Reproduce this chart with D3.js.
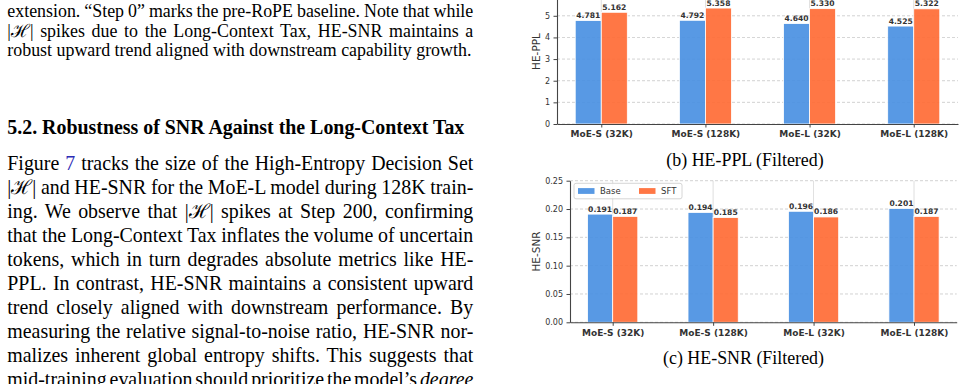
<!DOCTYPE html>
<html>
<head>
<meta charset="utf-8">
<script src="https://cdn.jsdelivr.net/npm/d3@7"></script>
<style>
  body { margin: 0; background: #fff; }
  svg { display: block; }
</style>
</head>
<body>
<script>
// chart data
const models = ["MoE-S (32K)", "MoE-S (128K)", "MoE-L (32K)", "MoE-L (128K)"];
const seriesNames = ["Base", "SFT"];
const pplBase = [4.781, 4.792, 4.640, 4.525];
const pplSft = [5.162, 5.358, 5.330, 5.322];
const snrBase = [0.191, 0.194, 0.196, 0.201];
const snrSft = [0.187, 0.185, 0.186, 0.187];
const pplTicks = [0, 1, 2, 3, 4, 5];
const snrTicks = [0, 0.05, 0.10, 0.15, 0.20, 0.25];

const colors = ["#4a90e2", "#ff6b35"];
const H = "|\u210B|";

const svg = d3.select("body").append("svg")
    .attr("width", 965)
    .attr("height", 384);

// ---------- left column text ----------
const serif = "'Liberation Serif', 'Times New Roman', serif";
const colLeft = 7.3, colWidth = 466;

function textLine(segs, y, size, justify, bold) {
  const t = svg.append("text")
      .attr("x", colLeft)
      .attr("y", y)
      .attr("font-family", serif)
      .attr("font-size", size)
      .attr("font-weight", bold ? "bold" : "normal")
      .attr("fill", "#000");
  segs.forEach(s => {
    const sp = t.append("tspan").text(s.t);
    if (s.c) sp.attr("fill", s.c);
    if (s.i) sp.attr("font-style", "italic");
  });
  if (justify) {
    const w = t.node().getComputedTextLength();
    const n = segs.map(s => s.t).join("").split(" ").length - 1;
    if (n > 0) t.style("word-spacing", ((colWidth - w) / n) + "px");
  }
}

const capLines = [
  [{t: "extension. \u201CStep 0\u201D marks the pre-RoPE baseline. Note that while"}],
  [{t: H + " spikes due to the Long-Context Tax, HE-SNR maintains a"}],
  [{t: "robust upward trend aligned with downstream capability growth."}]
];
capLines.forEach((l, i) => textLine(l, 17.1 + i * 19.5, 17.9, i < 2, false));

textLine([{t: "5.2. Robustness of SNR Against the Long-Context Tax"}], 134, 19.9, false, true);

const bodyLines = [
  [{t: "Figure "}, {t: "7", c: "#2b2bb5"}, {t: " tracks the size of the High-Entropy Decision Set"}],
  [{t: H + " and HE-SNR for the MoE-L model during 128K train-"}],
  [{t: "ing. We observe that " + H + " spikes at Step 200, confirming"}],
  [{t: "that the Long-Context Tax inflates the volume of uncertain"}],
  [{t: "tokens, which in turn degrades absolute metrics like HE-"}],
  [{t: "PPL. In contrast, HE-SNR maintains a consistent upward"}],
  [{t: "trend closely aligned with downstream performance. By"}],
  [{t: "measuring the relative signal-to-noise ratio, HE-SNR nor-"}],
  [{t: "malizes inherent global entropy shifts. This suggests that"}],
  [{t: "mid-training evaluation should prioritize the model\u2019s "}, {t: "degree", i: true}]
];
bodyLines.forEach((l, i) => textLine(l, 170.3 + i * 23.95, 19.9, true, false));

// ---------- bar charts ----------
const sans = "'DejaVu Sans', sans-serif";

function barChart(cfg) {
  const g = svg.append("g");
  const x = d3.scaleLinear().domain([-0.425, 3.425]).range([cfg.left, cfg.right]);
  const y = d3.scaleLinear().domain(cfg.domain).range([cfg.bottom, cfg.top]);
  const bw = 0.25;

  // grid
  g.append("g").selectAll("line").data(cfg.ticks).join("line")
      .attr("x1", cfg.left).attr("x2", cfg.right)
      .attr("y1", d => y(d)).attr("y2", d => y(d))
      .attr("stroke", "#b0b0b0").attr("stroke-width", 0.8)
      .attr("stroke-dasharray", "3,2").attr("opacity", 0.7);
  g.append("g").selectAll("line").data(models).join("line")
      .attr("x1", (d, i) => x(i)).attr("x2", (d, i) => x(i))
      .attr("y1", y(cfg.domain[1])).attr("y2", y(0))
      .attr("stroke", "#b0b0b0").attr("stroke-width", 0.8).attr("opacity", 0.5);

  // bars + labels
  [cfg.base, cfg.sft].forEach((vals, s) => {
    const off = s === 0 ? -bw : 0;
    g.append("g").selectAll("rect").data(vals).join("rect")
        .attr("x", (d, i) => x(i + off))
        .attr("width", x(bw) - x(0))
        .attr("y", d => y(d))
        .attr("height", d => y(0) - y(d))
        .attr("fill", colors[s]).attr("fill-opacity", 0.92)
        .attr("stroke", "#fff").attr("stroke-width", 0.8);
    g.append("g").selectAll("text").data(vals).join("text")
        .attr("x", (d, i) => x(i + off + bw / 2))
        .attr("y", d => y(d) - 2.5)
        .attr("text-anchor", "middle")
        .attr("font-family", sans).attr("font-size", 7.6).attr("font-weight", "bold")
        .attr("fill", "#333")
        .text(d => d3.format(".3f")(d));
  });

  // axes
  const yAxis = g.append("g")
      .attr("transform", `translate(${cfg.left},0)`)
      .call(d3.axisLeft(y).tickValues(cfg.ticks).tickFormat(cfg.fmt)
        .tickSize(3.5).tickSizeOuter(0).tickPadding(3.5));
  const xAxis = g.append("g")
      .attr("transform", `translate(0,${cfg.bottom})`)
      .call(d3.axisBottom(x).tickValues(d3.range(models.length)).tickFormat(i => models[i])
        .tickSize(3.5).tickSizeOuter(0).tickPadding(3.5));
  [yAxis, xAxis].forEach(a => {
    a.select(".domain").attr("stroke", "#444").attr("stroke-width", 1.1);
    a.selectAll(".tick line").attr("stroke", "#444").attr("stroke-width", 1);
    a.selectAll(".tick text").attr("fill", "#333").attr("font-family", sans);
  });
  yAxis.selectAll(".tick text").attr("font-size", 8);
  xAxis.selectAll(".tick text").attr("font-size", 9).attr("font-weight", "bold");

  g.append("text")
      .attr("transform", `translate(${cfg.labelX},${(y.range()[0] + y.range()[1]) / 2}) rotate(-90)`)
      .attr("dy", "0.35em")
      .attr("text-anchor", "middle")
      .attr("font-family", sans).attr("font-size", 10.5).attr("fill", "#333")
      .text(cfg.ylabel);

  svg.append("text")
      .attr("x", cfg.capX).attr("y", cfg.capY)
      .attr("text-anchor", "middle")
      .attr("font-family", serif).attr("font-size", 17.9).attr("fill", "#000")
      .text(cfg.caption);
  return {g, x, y};
}

barChart({
  left: 557, right: 958, top: -21, bottom: 124,
  domain: [0, 6.7], ticks: pplTicks, fmt: d3.format("d"),
  base: pplBase, sft: pplSft,
  ylabel: "HE-PPL", labelX: 536,
  caption: "(b) HE-PPL (Filtered)", capX: 745, capY: 165.5
});

const c = barChart({
  left: 570, right: 956.7, top: 180.7, bottom: 322.3,
  domain: [0, 0.25], ticks: snrTicks, fmt: d3.format(".2f"),
  base: snrBase, sft: snrSft,
  ylabel: "HE-SNR", labelX: 536,
  caption: "(c) HE-SNR (Filtered)", capX: 743.5, capY: 364
});

// legend
const lg = c.g.append("g").attr("transform", "translate(574,183.3)");
lg.append("rect")
    .attr("width", 108).attr("height", 15.5).attr("rx", 2)
    .attr("fill", "#fff").attr("fill-opacity", 0.85)
    .attr("stroke", "#ccc").attr("stroke-width", 0.8);
const items = lg.selectAll("g.item").data(seriesNames).join("g")
    .attr("transform", (d, i) => `translate(${4 + i * 61},0)`);
items.append("rect")
    .attr("y", 4.8).attr("width", 16.5).attr("height", 5.8)
    .attr("fill", (d, i) => colors[i]).attr("fill-opacity", 0.92);
items.append("text")
    .attr("x", 22).attr("y", 7.8).attr("dy", "0.35em")
    .attr("font-family", sans).attr("font-size", 8.5).attr("fill", "#333")
    .text(d => d);
</script>
</body>
</html>
